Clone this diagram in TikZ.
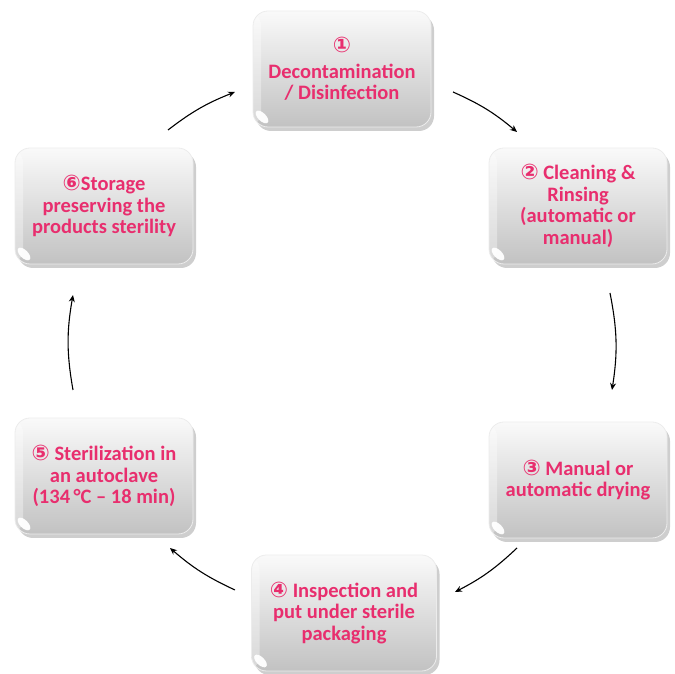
\documentclass[tikz,border=0pt]{standalone}
\usepackage{fontspec}
\setmainfont{Carlito}
\newfontfamily\symf{DejaVu Sans Bold}
\usetikzlibrary{arrows.meta,shadows}
\definecolor{pinktxt}{RGB}{232,46,110}
\tikzset{
  gbox/.style={draw=white!85!gray, line width=0.8pt, rounded corners=15pt,
    minimum width=178pt, minimum height=116pt,
    top color=gray!4, bottom color=gray!48,
    text=pinktxt, font=\bfseries\fontsize{20.5}{21.5}\selectfont, align=center, inner sep=4pt,
    drop shadow={shadow xshift=3pt, shadow yshift=-4pt, opacity=.45, fill=gray!85},
    path picture={
      \fill[white, opacity=.35] (path picture bounding box.north west) rectangle ([xshift=8pt]path picture bounding box.south west);
      \fill[white, opacity=.95] ([xshift=9pt,yshift=10pt]path picture bounding box.south west) ellipse [x radius=8pt, y radius=4pt, rotate=-45];
    }},
  flow/.style={-{Stealth[length=7pt,width=6pt]}, line width=1.1pt, black}
}
\newcommand\cdig[1]{{\symf\fontsize{21.5}{21.5}\selectfont #1}}
\begin{document}
\begin{tikzpicture}[x=1pt,y=1pt]
\useasboundingbox (0,0) rectangle (675,674);
\node[gbox] (n1) at (342,605) {\cdig{①}\\[4pt]Decontamination\\/ Disinfection};
\node[gbox] (n2) at (578,468) {\cdig{②} Cleaning \&\\Rinsing\\(automatic or\\manual)};
\node[gbox] (n3) at (578,194) {\cdig{③} Manual or\\automatic drying};
\node[gbox, minimum width=185pt] (n4) at (344,61) {\cdig{④} Inspection and\\put under sterile\\packaging};
\node[gbox] (n5) at (104,198) {\cdig{⑤} Sterilization in\\an autoclave\\(134\,°C – 18 min)};
\node[gbox] (n6) at (104,468) {\cdig{⑥}Storage\\preserving the\\products sterility};
\coordinate (a1s) at (453,582); \coordinate (a1e) at (517,542);
\coordinate (a2s) at (610,381); \coordinate (a2e) at (612,284);
\coordinate (a3s) at (517,126); \coordinate (a3e) at (455,82);
\coordinate (a4s) at (235,84);  \coordinate (a4e) at (170,126);
\coordinate (a5s) at (73,284);  \coordinate (a5e) at (73,379);
\coordinate (a6s) at (168,544); \coordinate (a6e) at (235,582);
\draw[flow] (a1s) to[bend left=8] (a1e);
\draw[flow] (a2s) to[bend left=10] (a2e);
\draw[flow] (a3s) to[bend left=8] (a3e);
\draw[flow] (a4s) to[bend left=8] (a4e);
\draw[flow] (a5s) to[bend left=10] (a5e);
\draw[flow] (a6s) to[bend left=8] (a6e);
\end{tikzpicture}
\end{document}
